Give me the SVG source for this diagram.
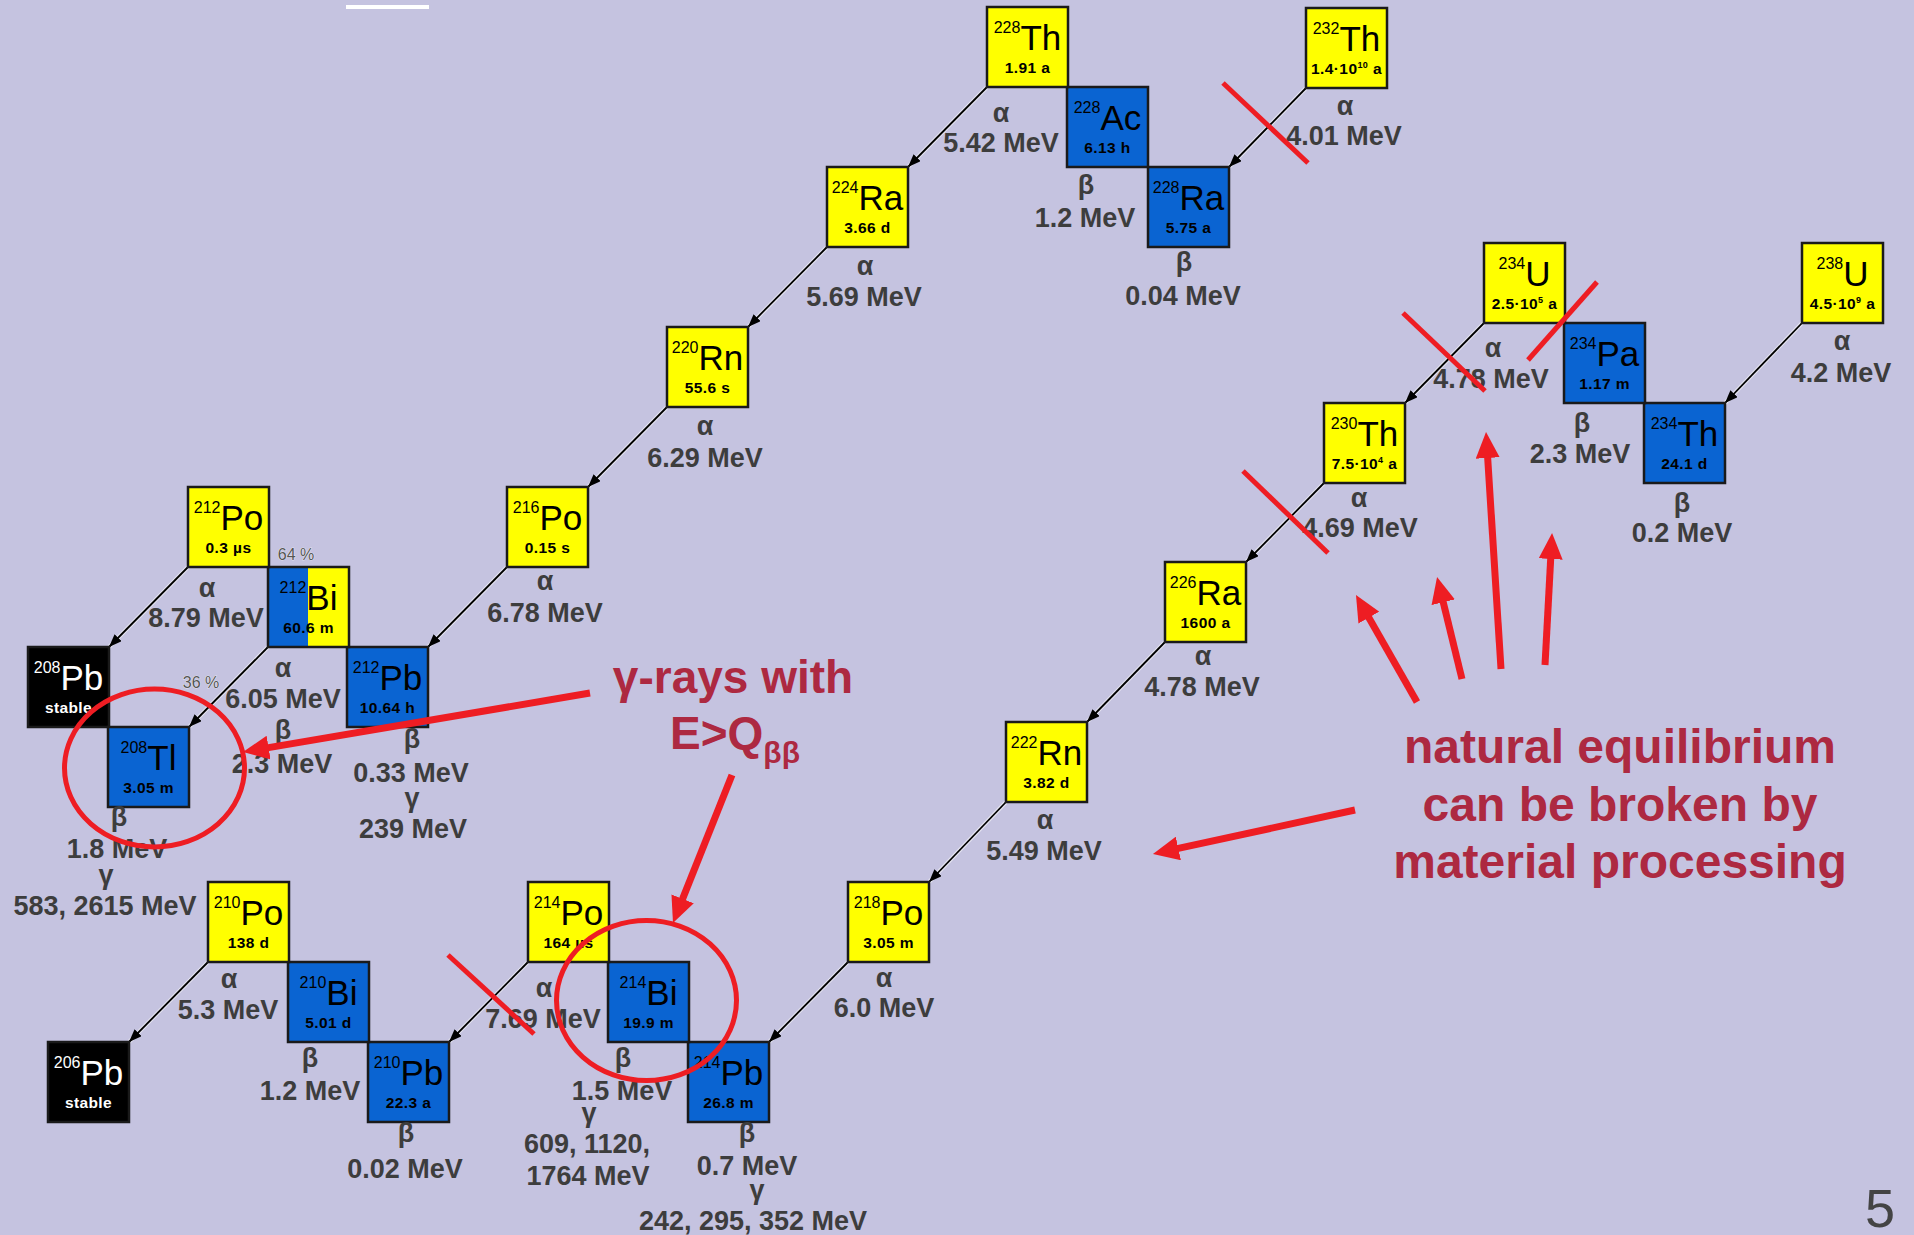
<svg xmlns="http://www.w3.org/2000/svg" width="1914" height="1235" viewBox="0 0 1914 1235">
<style>
.bx{stroke:#1a1a1a;stroke-width:2.5}
.y{fill:#FFFF00}.b{fill:#0A64D2}.k{fill:#000}
.nt{font-family:"Liberation Sans",Arial,sans-serif;text-anchor:middle;fill:#000}
.nw{fill:#fff}
.sym{font-size:35px}
.sup{font-size:16px}
.hl{font-size:15.5px;font-weight:bold;letter-spacing:0.4px}
.lbl{font-family:"Liberation Sans",Arial,sans-serif;font-weight:bold;font-size:27px;fill:#3d3d3d;text-anchor:middle}
.pct{font-family:"Liberation Sans",Arial,sans-serif;font-size:16px;fill:#555;text-anchor:middle;stroke:#fff;stroke-width:0.6;paint-order:stroke}
.red{font-family:"Liberation Sans",Arial,sans-serif;font-weight:bold;fill:#AD2941;text-anchor:middle}
.dec{stroke:#000;stroke-width:1.8;fill:none;marker-end:url(#ah)}
.halo{stroke:#fff;stroke-width:4;stroke-opacity:0.55;fill:none}
.ra{stroke:#EE1D23;stroke-width:7;fill:none;marker-end:url(#rh)}
.rx{stroke:#EE1D23;stroke-width:5;fill:none}
.rc{stroke:#EE1D23;stroke-width:5;fill:none}
</style>
<defs>
<marker id="ah" markerUnits="userSpaceOnUse" markerWidth="13" markerHeight="10" refX="13" refY="5" orient="auto"><path d="M0,0 L13,5 L0,10 z" fill="#000"/></marker>
<marker id="rh" markerUnits="userSpaceOnUse" markerWidth="26" markerHeight="24" refX="6" refY="12" orient="auto"><path d="M0,0 L26,12 L0,24 z" fill="#EE1D23"/></marker>
</defs>
<rect width="1914" height="1235" fill="#C5C3E0"/>
<rect x="346" y="5" width="83" height="4" fill="#fff"/>

<g id="connectors">
<g class="halo">
<line x1="1306" y1="88" x2="1229" y2="167"/><line x1="987" y1="87" x2="908" y2="167"/><line x1="827" y1="247" x2="748" y2="327"/><line x1="667" y1="407" x2="588" y2="487"/><line x1="507" y1="567" x2="428" y2="647"/><line x1="188" y1="567" x2="109" y2="647"/><line x1="268" y1="647" x2="189" y2="727"/><line x1="1802" y1="323" x2="1725" y2="403"/><line x1="1484" y1="323" x2="1405" y2="403"/><line x1="1324" y1="483" x2="1246" y2="562"/><line x1="1165" y1="642" x2="1087" y2="722"/><line x1="1006" y1="802" x2="929" y2="882"/><line x1="848" y1="962" x2="769" y2="1042"/><line x1="528" y1="962" x2="449" y2="1042"/><line x1="208" y1="962" x2="129" y2="1042"/>
</g>
<line class="dec" x1="1306" y1="88" x2="1229" y2="167"/>
<line class="dec" x1="987" y1="87" x2="908" y2="167"/>
<line class="dec" x1="827" y1="247" x2="748" y2="327"/>
<line class="dec" x1="667" y1="407" x2="588" y2="487"/>
<line class="dec" x1="507" y1="567" x2="428" y2="647"/>
<line class="dec" x1="188" y1="567" x2="109" y2="647"/>
<line class="dec" x1="268" y1="647" x2="189" y2="727"/>
<line class="dec" x1="1802" y1="323" x2="1725" y2="403"/>
<line class="dec" x1="1484" y1="323" x2="1405" y2="403"/>
<line class="dec" x1="1324" y1="483" x2="1246" y2="562"/>
<line class="dec" x1="1165" y1="642" x2="1087" y2="722"/>
<line class="dec" x1="1006" y1="802" x2="929" y2="882"/>
<line class="dec" x1="848" y1="962" x2="769" y2="1042"/>
<line class="dec" x1="528" y1="962" x2="449" y2="1042"/>
<line class="dec" x1="208" y1="962" x2="129" y2="1042"/>
</g>

<g id="th232" transform="translate(1306,8)"><rect class="bx y" width="81" height="80"/><text class="nt" x="40.5" y="43"><tspan class="sup" dy="-17">232</tspan><tspan class="sym" dy="17">Th</tspan></text><text class="nt hl" x="40.5" y="66">1.4·10<tspan font-size="9" dy="-6">10</tspan><tspan dy="6"> a</tspan></text></g>
<g id="ra228" transform="translate(1148,167)"><rect class="bx b" width="81" height="80"/><text class="nt" x="40.5" y="43"><tspan class="sup" dy="-17">228</tspan><tspan class="sym" dy="17">Ra</tspan></text><text class="nt hl" x="40.5" y="66">5.75 a</text></g>
<g id="ac228" transform="translate(1067,87)"><rect class="bx b" width="81" height="80"/><text class="nt" x="40.5" y="43"><tspan class="sup" dy="-17">228</tspan><tspan class="sym" dy="17">Ac</tspan></text><text class="nt hl" x="40.5" y="66">6.13 h</text></g>
<g id="th228" transform="translate(987,7)"><rect class="bx y" width="81" height="80"/><text class="nt" x="40.5" y="43"><tspan class="sup" dy="-17">228</tspan><tspan class="sym" dy="17">Th</tspan></text><text class="nt hl" x="40.5" y="66">1.91 a</text></g>
<g id="ra224" transform="translate(827,167)"><rect class="bx y" width="81" height="80"/><text class="nt" x="40.5" y="43"><tspan class="sup" dy="-17">224</tspan><tspan class="sym" dy="17">Ra</tspan></text><text class="nt hl" x="40.5" y="66">3.66 d</text></g>
<g id="rn220" transform="translate(667,327)"><rect class="bx y" width="81" height="80"/><text class="nt" x="40.5" y="43"><tspan class="sup" dy="-17">220</tspan><tspan class="sym" dy="17">Rn</tspan></text><text class="nt hl" x="40.5" y="66">55.6 s</text></g>
<g id="po216" transform="translate(507,487)"><rect class="bx y" width="81" height="80"/><text class="nt" x="40.5" y="43"><tspan class="sup" dy="-17">216</tspan><tspan class="sym" dy="17">Po</tspan></text><text class="nt hl" x="40.5" y="66">0.15 s</text></g>
<g id="pb212" transform="translate(347,647)"><rect class="bx b" width="81" height="80"/><text class="nt" x="40.5" y="43"><tspan class="sup" dy="-17">212</tspan><tspan class="sym" dy="17">Pb</tspan></text><text class="nt hl" x="40.5" y="66">10.64 h</text></g>
<g id="bi212" transform="translate(268,567)"><rect class="b" width="40" height="80"/><rect class="y" x="40" width="41" height="80"/><rect class="bx" width="81" height="80" fill="none"/><text class="nt" x="40.5" y="43"><tspan class="sup" dy="-17">212</tspan><tspan class="sym" dy="17">Bi</tspan></text><text class="nt hl" x="40.5" y="66">60.6 m</text></g>
<g id="po212" transform="translate(188,487)"><rect class="bx y" width="81" height="80"/><text class="nt" x="40.5" y="43"><tspan class="sup" dy="-17">212</tspan><tspan class="sym" dy="17">Po</tspan></text><text class="nt hl" x="40.5" y="66">0.3 µs</text></g>
<g id="pb208" transform="translate(28,647)"><rect class="bx k" width="81" height="80"/><text class="nt nw" x="40.5" y="43"><tspan class="sup" dy="-17">208</tspan><tspan class="sym" dy="17">Pb</tspan></text><text class="nt nw hl" x="40.5" y="66">stable</text></g>
<g id="tl208" transform="translate(108,727)"><rect class="bx b" width="81" height="80"/><text class="nt" x="40.5" y="43"><tspan class="sup" dy="-17">208</tspan><tspan class="sym" dy="17">Tl</tspan></text><text class="nt hl" x="40.5" y="66">3.05 m</text></g>

<g id="u238" transform="translate(1802,243)"><rect class="bx y" width="81" height="80"/><text class="nt" x="40.5" y="43"><tspan class="sup" dy="-17">238</tspan><tspan class="sym" dy="17">U</tspan></text><text class="nt hl" x="40.5" y="66">4.5·10<tspan font-size="9" dy="-6">9</tspan><tspan dy="6"> a</tspan></text></g>
<g id="th234" transform="translate(1644,403)"><rect class="bx b" width="81" height="80"/><text class="nt" x="40.5" y="43"><tspan class="sup" dy="-17">234</tspan><tspan class="sym" dy="17">Th</tspan></text><text class="nt hl" x="40.5" y="66">24.1 d</text></g>
<g id="pa234" transform="translate(1564,323)"><rect class="bx b" width="81" height="80"/><text class="nt" x="40.5" y="43"><tspan class="sup" dy="-17">234</tspan><tspan class="sym" dy="17">Pa</tspan></text><text class="nt hl" x="40.5" y="66">1.17 m</text></g>
<g id="u234" transform="translate(1484,243)"><rect class="bx y" width="81" height="80"/><text class="nt" x="40.5" y="43"><tspan class="sup" dy="-17">234</tspan><tspan class="sym" dy="17">U</tspan></text><text class="nt hl" x="40.5" y="66">2.5·10<tspan font-size="9" dy="-6">5</tspan><tspan dy="6"> a</tspan></text></g>
<g id="th230" transform="translate(1324,403)"><rect class="bx y" width="81" height="80"/><text class="nt" x="40.5" y="43"><tspan class="sup" dy="-17">230</tspan><tspan class="sym" dy="17">Th</tspan></text><text class="nt hl" x="40.5" y="66">7.5·10<tspan font-size="9" dy="-6">4</tspan><tspan dy="6"> a</tspan></text></g>
<g id="ra226" transform="translate(1165,562)"><rect class="bx y" width="81" height="80"/><text class="nt" x="40.5" y="43"><tspan class="sup" dy="-17">226</tspan><tspan class="sym" dy="17">Ra</tspan></text><text class="nt hl" x="40.5" y="66">1600 a</text></g>
<g id="rn222" transform="translate(1006,722)"><rect class="bx y" width="81" height="80"/><text class="nt" x="40.5" y="43"><tspan class="sup" dy="-17">222</tspan><tspan class="sym" dy="17">Rn</tspan></text><text class="nt hl" x="40.5" y="66">3.82 d</text></g>
<g id="po218" transform="translate(848,882)"><rect class="bx y" width="81" height="80"/><text class="nt" x="40.5" y="43"><tspan class="sup" dy="-17">218</tspan><tspan class="sym" dy="17">Po</tspan></text><text class="nt hl" x="40.5" y="66">3.05 m</text></g>
<g id="pb214" transform="translate(688,1042)"><rect class="bx b" width="81" height="80"/><text class="nt" x="40.5" y="43"><tspan class="sup" dy="-17">214</tspan><tspan class="sym" dy="17">Pb</tspan></text><text class="nt hl" x="40.5" y="66">26.8 m</text></g>
<g id="bi214" transform="translate(608,962)"><rect class="bx b" width="81" height="80"/><text class="nt" x="40.5" y="43"><tspan class="sup" dy="-17">214</tspan><tspan class="sym" dy="17">Bi</tspan></text><text class="nt hl" x="40.5" y="66">19.9 m</text></g>
<g id="po214" transform="translate(528,882)"><rect class="bx y" width="81" height="80"/><text class="nt" x="40.5" y="43"><tspan class="sup" dy="-17">214</tspan><tspan class="sym" dy="17">Po</tspan></text><text class="nt hl" x="40.5" y="66">164 µs</text></g>
<g id="pb210" transform="translate(368,1042)"><rect class="bx b" width="81" height="80"/><text class="nt" x="40.5" y="43"><tspan class="sup" dy="-17">210</tspan><tspan class="sym" dy="17">Pb</tspan></text><text class="nt hl" x="40.5" y="66">22.3 a</text></g>
<g id="bi210" transform="translate(288,962)"><rect class="bx b" width="81" height="80"/><text class="nt" x="40.5" y="43"><tspan class="sup" dy="-17">210</tspan><tspan class="sym" dy="17">Bi</tspan></text><text class="nt hl" x="40.5" y="66">5.01 d</text></g>
<g id="po210" transform="translate(208,882)"><rect class="bx y" width="81" height="80"/><text class="nt" x="40.5" y="43"><tspan class="sup" dy="-17">210</tspan><tspan class="sym" dy="17">Po</tspan></text><text class="nt hl" x="40.5" y="66">138 d</text></g>
<g id="pb206" transform="translate(48,1042)"><rect class="bx k" width="81" height="80"/><text class="nt nw" x="40.5" y="43"><tspan class="sup" dy="-17">206</tspan><tspan class="sym" dy="17">Pb</tspan></text><text class="nt nw hl" x="40.5" y="66">stable</text></g>

<g id="labels" class="lbl">
<text x="1345" y="115">α</text><text x="1344" y="145">4.01 MeV</text>
<text x="1001" y="122">α</text><text x="1001" y="152">5.42 MeV</text>
<text x="1086" y="194">β</text><text x="1085" y="227">1.2 MeV</text>
<text x="1184" y="271">β</text><text x="1183" y="305">0.04 MeV</text>
<text x="865" y="275">α</text><text x="864" y="306">5.69 MeV</text>
<text x="705" y="435">α</text><text x="705" y="467">6.29 MeV</text>
<text x="545" y="590">α</text><text x="545" y="622">6.78 MeV</text>
<text x="412" y="748">β</text><text x="411" y="782">0.33 MeV</text>
<text x="412" y="807">γ</text><text x="413" y="838">239 MeV</text>
<text x="207" y="597">α</text><text x="206" y="627">8.79 MeV</text>
<text x="283" y="677">α</text><text x="283" y="708">6.05 MeV</text>
<text x="283" y="739">β</text><text x="282" y="773">2.3 MeV</text>
<text x="119" y="826">β</text><text x="117" y="858">1.8 MeV</text>
<text x="106" y="884">γ</text><text x="105" y="915">583, 2615 MeV</text>
<text x="1842" y="350">α</text><text x="1841" y="382">4.2 MeV</text>
<text x="1682" y="512">β</text><text x="1682" y="542">0.2 MeV</text>
<text x="1582" y="432">β</text><text x="1580" y="463">2.3 MeV</text>
<text x="1493" y="357">α</text><text x="1491" y="388">4.78 MeV</text>
<text x="1359" y="507">α</text><text x="1360" y="537">4.69 MeV</text>
<text x="1203" y="665">α</text><text x="1202" y="696">4.78 MeV</text>
<text x="1045" y="829">α</text><text x="1044" y="860">5.49 MeV</text>
<text x="884" y="987">α</text><text x="884" y="1017">6.0 MeV</text>
<text x="747" y="1142">β</text><text x="747" y="1175">0.7 MeV</text>
<text x="757" y="1199">γ</text><text x="753" y="1230">242, 295, 352 MeV</text>
<text x="623" y="1067">β</text><text x="622" y="1100">1.5 MeV</text>
<text x="589" y="1122">γ</text><text x="587" y="1153">609, 1120,</text><text x="588" y="1185">1764 MeV</text>
<text x="544" y="997">α</text><text x="543" y="1028">7.69 MeV</text>
<text x="229" y="988">α</text><text x="228" y="1019">5.3 MeV</text>
<text x="310" y="1067">β</text><text x="310" y="1100">1.2 MeV</text>
<text x="406" y="1142">β</text><text x="405" y="1178">0.02 MeV</text>
</g>
<g id="branching">
<text class="pct" x="296" y="560">64 %</text>
<text class="pct" x="201" y="688">36 %</text>
</g>

<g id="annotations">
<line class="rx" x1="1223" y1="83" x2="1308" y2="163"/>
<line class="rx" x1="1403" y1="313" x2="1485" y2="391"/>
<line class="rx" x1="1597" y1="282" x2="1528" y2="360"/>
<line class="rx" x1="1243" y1="471" x2="1328" y2="553"/>
<line class="rx" x1="448" y1="955" x2="534" y2="1034"/>
<ellipse class="rc" cx="154.5" cy="768" rx="90" ry="79"/>
<ellipse class="rc" cx="646.5" cy="1000.5" rx="90" ry="80"/>
<line class="ra" x1="590" y1="693" x2="262.7" y2="748.6"/>
<line class="ra" x1="732" y1="775" x2="680.4" y2="904.4"/>
<line class="ra" x1="1355" y1="810" x2="1172.5" y2="849.7"/>
<line class="ra" x1="1417" y1="702" x2="1365.9" y2="612.4"/>
<line class="ra" x1="1462" y1="679" x2="1441.8" y2="596.4"/>
<line class="ra" x1="1501" y1="669" x2="1487.3" y2="452"/>
<line class="ra" x1="1545" y1="665" x2="1551" y2="553"/>
<text class="red" x="733" y="693" font-size="46">γ-rays with</text>
<text class="red" x="735" y="749" font-size="46">E&gt;Q<tspan font-size="30" dy="14">ββ</tspan></text>
<text class="red" x="1620" y="763" font-size="48">natural equilibrium</text>
<text class="red" x="1620" y="821" font-size="48">can be broken by</text>
<text class="red" x="1620" y="878" font-size="48">material processing</text>
</g>
<text x="1880" y="1227" font-family="'Liberation Sans',Arial,sans-serif" font-size="54" fill="#444" text-anchor="middle">5</text>
</svg>
